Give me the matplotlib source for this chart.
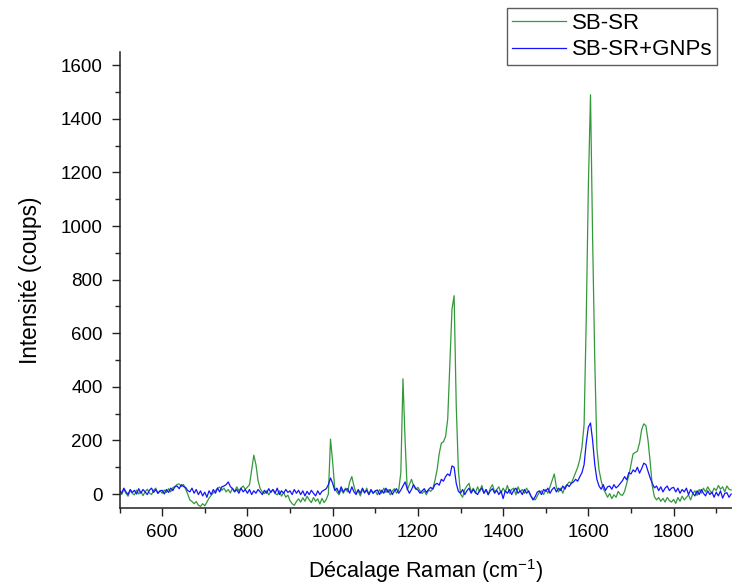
import numpy as np
import matplotlib
matplotlib.use("Agg")
import matplotlib.pyplot as plt
from matplotlib.ticker import MultipleLocator

plt.rcParams['font.family'] = ['Liberation Sans', 'DejaVu Sans']
plt.rcParams['mathtext.fontset'] = 'custom'
plt.rcParams['mathtext.rm'] = 'Liberation Sans'
plt.rcParams['mathtext.it'] = 'Liberation Sans'
plt.rcParams['mathtext.default'] = 'regular'

# Raman shift grid (cm-1), 5 cm-1 step from 500 to 1935
raman_shift = list(range(500, 1940, 5))

# SB-SR intensity (counts)
sb_sr = [
    10, -2, 18, 3, -8, 14, 2, -3, 15, 0, 10, -6, 8, 18, 4, -2, 14, 22, 2, 12,        # 500-595
    3, 15, 6, 20, 8, 24, 28, 36, 38, 28, 36, 18, 0, -22, -28, -36, -28, -42, -46, -36,  # 600-695
    -44, -30, -15, -5, 5, 12, 22, 26, 14, 22, 8, 17, 4, 22, 10, 27, 13, 22, 30, 18,  # 700-795
    26, 35, 90, 145, 110, 50, 20, 8, 2, 12, -3, 10, 16, 2, -3, 12, -8, 6, -12, -4,   # 800-895
    -25, -36, -42, -28, -18, -30, -14, -27, -8, -22, -32, -13, -27, -18, -37, -16, -32, -20, 0, 205,  # 900-995
    120, 20, 8, -3, 17, 3, 22, 8, 45, 65, 30, 3, 12, -7, 17, 3, 22, -2, 14, 3,       # 1000-1095
    12, -3, 17, 3, 22, 6, 17, -3, 12, 20, 3, 15, 80, 430, 200, 15, 35, 55, 30, 18,   # 1100-1195
    25, 12, 2, 12, -3, 15, 10, 20, 50, 90, 150, 190, 195, 215, 280, 480, 690, 740, 330, 90,  # 1200-1295
    0, -12, 17, 30, 40, 8, 22, 3, 27, 8, 32, 3, 17, -3, 22, 35, 8, 17, 27, 3,         # 1300-1395
    22, 8, 32, 3, 17, 22, -3, 27, 8, 17, 3, 22, 8, -7, -17, -22, -8, 7, 12, -2,       # 1400-1495
    17, 3, 27, 50, 75, 25, 8, 22, 3, 27, 35, 45, 40, 60, 80, 100, 130, 175, 260, 650,  # 1500-1595
    1150, 1490, 950, 500, 170, 90, 50, 20, 5, -12, 2, -17, -3, -12, 10, -2, -5, 10, 40, 70,  # 1600-1695
    110, 150, 155, 160, 190, 240, 262, 255, 200, 120, 30, -10, -22, -13, -27, -16, -30, -13, -24, -30,  # 1700-1795
    -20, -35, -13, -27, -8, -22, -13, -3, -22, 2, 12, -5, 17, 3, 22, 8, 27, 13, 3, 22,  # 1800-1895
    13, 32, 18, 27, 8, 30, 18, 15,                                                     # 1900-1935
]

# SB-SR+GNPs intensity (counts)
sb_sr_gnps = [
    15, 3, 22, 8, -2, 17, 6, 14, 0, 20, 3, 17, 8, -2, 14, 22, 6, 17, 3, 12,          # 500-595
    14, 0, 17, 6, 22, 13, 27, 30, 20, 35, 28, 25, 13, 8, 22, 3, 17, -2, 12, -7,      # 600-695
    7, -12, 12, -2, 17, 3, 22, 8, 27, 30, 35, 45, 28, 20, 8, 17, 3, 22, 8, 17,       # 700-795
    3, 17, -2, 12, 3, 17, 8, -2, 14, 3, 20, 6, 17, 3, 22, -2, 12, 3, 17, 6,          # 800-895
    12, -2, 17, 3, 14, -2, 12, -7, 10, -2, 14, 3, -7, 12, -2, 10, 15, 20, 35, 60,    # 900-995
    40, 13, 22, 3, 27, 8, 17, 20, 3, 27, 8, -2, 17, 3, 22, 6, 14, -2, 17, 3,         # 1000-1095
    12, 15, -2, 14, 3, 22, 6, 17, -2, 12, 20, 3, 15, 30, 45, 20, 3, 17, 35, 20,      # 1100-1195
    15, 3, 12, 20, 6, 17, 25, 18, 35, 40, 33, 55, 48, 65, 75, 68, 105, 100, 40, 10,  # 1200-1295
    3, 17, -2, 12, 22, 3, 17, 6, -2, 14, 22, 3, 17, -2, 12, 20, 3, 14, -2, 12,       # 1300-1395
    -17, 12, 3, 17, -2, 14, 22, 3, 12, -2, 17, 3, 12, -7, -22, -10, 7, 12, -2, 17,   # 1400-1495
    10, 22, 3, 17, 25, 8, 22, 13, 30, 18, 35, 28, 40, 45, 55, 48, 65, 80, 110, 190,  # 1500-1595
    250, 265, 200, 110, 55, 30, 18, 35, 13, 27, 30, 18, 35, 23, 30, 40, 50, 65, 53, 80,  # 1600-1695
    75, 90, 83, 100, 78, 95, 115, 110, 85, 60, 40, 23, 30, 13, 27, 8, 22, 30, 13, 22,  # 1700-1795
    25, 8, 22, 3, 17, 8, 22, -2, 17, 3, -7, 12, -2, 17, 3, -7, 12, -2, 7, -12,       # 1800-1895
    7, -7, 12, -15, 2, 5, -12, 0,                                                      # 1900-1935
]

series_labels = ["SB-SR", "SB-SR+GNPs"]
x_ticks = [600, 800, 1000, 1200, 1400, 1600, 1800]
y_ticks = [0, 200, 400, 600, 800, 1000, 1200, 1400, 1600]

fig = plt.figure(figsize=(7.32, 5.86), dpi=100)
ax = fig.add_axes([0.1633, 0.1336, 0.8367, 0.7780])

ax.plot(raman_shift, sb_sr, color='#34993a', lw=0.9, label=series_labels[0])
ax.plot(raman_shift, sb_sr_gnps, color='#1414ff', lw=0.9, label=series_labels[1])

ax.set_xlim(500, 1937)
ax.set_ylim(-51, 1650)
ax.set_xticks(x_ticks)
ax.set_yticks(y_ticks)
ax.xaxis.set_minor_locator(MultipleLocator(100))
ax.yaxis.set_minor_locator(MultipleLocator(100))

for s in ['top', 'right']:
    ax.spines[s].set_visible(False)
for s in ['left', 'bottom']:
    ax.spines[s].set_linewidth(1.1)
    ax.spines[s].set_color('#222222')

ax.tick_params(axis='both', which='major', direction='out', length=6, width=1.0,
               labelsize=13.5, pad=6, color='#222222')
ax.tick_params(axis='both', which='minor', direction='out', length=3.5, width=1.0,
               color='#222222')

ax.set_xlabel('Décalage Raman (cm$^{-1}$)', fontsize=15.6, labelpad=11)
ax.set_ylabel('Intensité (coups)', fontsize=16.3, labelpad=14)

leg = fig.legend(loc='upper right', bbox_to_anchor=(0.9795, 0.9858), fontsize=16,
                 frameon=True, fancybox=False, shadow=False, handlelength=2.45,
                 handletextpad=0.25, labelspacing=0.23, borderpad=0.22,
                 borderaxespad=0.0)
leg.get_frame().set_edgecolor('#333333')
leg.get_frame().set_linewidth(1.0)

fig.savefig('out.png', dpi=100, facecolor='white')
